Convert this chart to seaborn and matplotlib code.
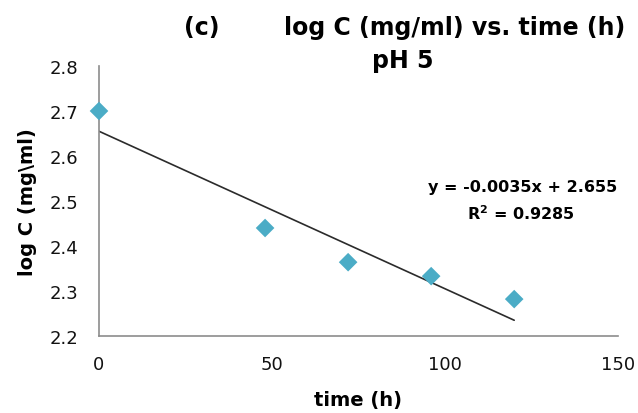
import numpy as np
import pandas as pd
import matplotlib
matplotlib.use("Agg")
import matplotlib.pyplot as plt
import seaborn as sns

# Measured log concentration over time at pH 5
time_h = [0, 48, 72, 96, 120]
log_c = [2.70, 2.44, 2.364, 2.333, 2.282]

# Linear trendline as reported on the chart
slope = -0.0035
intercept = 2.655
r_squared = 0.9285

x_ticks = [0, 50, 100, 150]
y_ticks = [2.2, 2.3, 2.4, 2.5, 2.6, 2.7, 2.8]

sns.set_style("white")
plt.rcParams["font.family"] = ["DejaVu Sans"]
plt.rcParams["text.color"] = "#000000"
plt.rcParams["axes.labelcolor"] = "#000000"

df = pd.DataFrame({"time": time_h, "logc": log_c})
fit_x = np.array([min(time_h), max(time_h)], dtype=float)
fit = pd.DataFrame({"time": fit_x, "logc": slope * fit_x + intercept})

W, H = 638, 414
fig = plt.figure(figsize=(W / 100, H / 100), dpi=100)
ax = fig.add_axes([99 / W, 1 - 337 / H, (618 - 99) / W, (337 - 67) / H])

sns.lineplot(data=fit, x="time", y="logc", ax=ax, color="#2b2b2b", lw=1.2)
sns.scatterplot(data=df, x="time", y="logc", ax=ax, marker="D", s=90,
                color="#4BACC6", edgecolor="none", zorder=3, clip_on=False)

ax.set_xlim(0, 150)
ax.set_ylim(2.2, 2.8)
ax.set_xticks(x_ticks)
ax.set_yticks(y_ticks)
ax.set_xticklabels([str(t) for t in x_ticks])
ax.set_yticklabels([f"{t:.1f}" for t in y_ticks])
ax.tick_params(axis="both", length=0, labelsize=13, colors="#111111")
ax.tick_params(axis="x", pad=14)
ax.tick_params(axis="y", pad=15)

for side in ("top", "right"):
    ax.spines[side].set_visible(False)
for side in ("left", "bottom"):
    ax.spines[side].set_color("#8c8c8c")
    ax.spines[side].set_linewidth(1.2)

ax.set_xlabel("time (h)", fontsize=14, fontweight="bold", labelpad=12)
ax.set_ylabel("log C (mg\\ml)", fontsize=14, fontweight="bold", labelpad=9)

ax.text(122.5, 2.532, f"y = {slope:.4f}x + {intercept:.3f}", ha="center", va="center",
        fontsize=11.5, fontweight="bold")
ax.text(122, 2.474, f"R$^\\mathbf{{2}}$ = {r_squared:.4f}", ha="center", va="center",
        fontsize=11.5, fontweight="bold")

fig.text(202 / W, 1 - 35 / H, "(c)", ha="center", va="baseline",
         fontsize=17, fontweight="bold")
fig.text(455 / W, 1 - 35 / H, "log C (mg/ml) vs. time (h)", ha="center", va="baseline",
         fontsize=17, fontweight="bold")
fig.text(403 / W, 1 - 68 / H, "pH 5", ha="center", va="baseline",
         fontsize=17, fontweight="bold")

fig.savefig("out.png", dpi=100)
